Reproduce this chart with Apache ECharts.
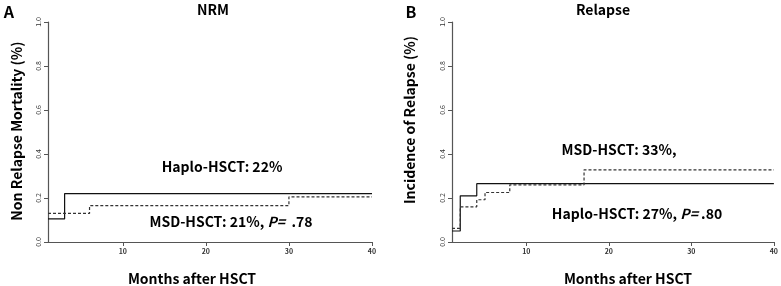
<!DOCTYPE html>
<html>
<head>
<meta charset="utf-8">
<script src="https://cdn.jsdelivr.net/npm/echarts@6/dist/echarts.min.js"></script>
<style>
  html, body { margin: 0; padding: 0; background: #fff; }
  #main { width: 781px; height: 286px; }
</style>
</head>
<body>
<div id="main"></div>
<script>
// 数据: [月份, 累计发生率]
const nrmHaplo = [[1, 0.105], [3, 0.22], [40, 0.22]];
const nrmMsd = [[1, 0.13], [6, 0.165], [30, 0.205], [40, 0.205]];
const relHaplo = [[1, 0.05], [2, 0.21], [4, 0.265], [40, 0.265]];
const relMsd = [[1, 0.062], [2, 0.16], [4, 0.192], [5, 0.225], [8, 0.26], [17, 0.328], [40, 0.328]];
const xTicks = [10, 20, 30, 40];

const FONT = '"Noto Sans CJK SC", "Noto Sans", sans-serif';
const chart = echarts.init(document.getElementById('main'));

function xAxisOf(i) {
    return {
        gridIndex: i,
        type: 'value',
        min: 1,
        max: 40,
        splitLine: { show: false },
        axisLine: { lineStyle: { color: '#555', width: 1.2 } },
        axisTick: { length: 4, lineStyle: { color: '#555' }, customValues: xTicks },
        axisLabel: {
            customValues: xTicks,
            fontSize: 7, fontWeight: 'bold', color: '#333', margin: 6, fontFamily: FONT
        }
    };
}
function yAxisOf(i) {
    return {
        gridIndex: i,
        type: 'value',
        min: 0,
        max: 1,
        interval: 0.2,
        splitLine: { show: false },
        axisLine: { show: true, lineStyle: { color: '#555', width: 1.2 } },
        axisTick: { show: true, length: 4, lineStyle: { color: '#555' } },
        axisLabel: {
            rotate: 90, fontSize: 7, color: '#333', margin: 6, fontFamily: FONT,
            formatter: (v) => v.toFixed(1)
        }
    };
}
function stepLine(i, data, dashed) {
    return {
        type: 'line',
        xAxisIndex: i,
        yAxisIndex: i,
        step: 'end',
        symbol: 'none',
        data: data,
        lineStyle: {
            color: dashed ? '#333' : '#111',
            width: 1.2,
            type: dashed ? [3, 2] : 'solid'
        },
        animation: false
    };
}
function txt(x, y, text, size, extra) {
    return Object.assign({
        type: 'text',
        x: x, y: y,
        style: {
            text: text, fill: '#000', fontSize: size, fontWeight: 'bold',
            fontFamily: FONT, align: 'center', verticalAlign: 'middle'
        }
    }, extra || {});
}
function richTxt(x, y, pre, post) {
    return {
        type: 'text',
        x: x, y: y,
        style: {
            text: '{n|' + pre + '}{i|P=}{n|' + post + '}',
            align: 'center', verticalAlign: 'middle',
            rich: {
                n: { fontSize: 14, fontWeight: 'bold', fontFamily: FONT, fill: '#000' },
                i: { fontSize: 14, fontWeight: 'bold', fontStyle: 'italic', fontFamily: FONT, fill: '#000' }
            }
        }
    };
}

chart.setOption({
    backgroundColor: '#fff',
    grid: [
        { left: 48, right: 409, top: 22, bottom: 44 },
        { left: 452, right: 5, top: 22, bottom: 44 }
    ],
    xAxis: [xAxisOf(0), xAxisOf(1)],
    yAxis: [yAxisOf(0), yAxisOf(1)],
    series: [
        stepLine(0, nrmHaplo, false),
        stepLine(0, nrmMsd, true),
        stepLine(1, relHaplo, false),
        stepLine(1, relMsd, true)
    ],
    graphic: [
        txt(9, 12, 'A', 16),
        txt(213, 10, 'NRM', 14),
        txt(17, 131, 'Non Relapse Mortality (%)', 14, { rotation: Math.PI / 2 }),
        txt(192, 279, 'Months after HSCT', 14),
        txt(222, 167, 'Haplo-HSCT: 22%', 14),
        richTxt(231, 222, 'MSD-HSCT: 21%, ', '  .78'),

        txt(411, 12, 'B', 16),
        txt(603, 10, 'Relapse', 14),
        txt(410, 120, 'Incidence of Relapse (%)', 14, { rotation: Math.PI / 2 }),
        txt(628, 279, 'Months after HSCT', 14),
        txt(619, 150, 'MSD-HSCT: 33%,', 14),
        richTxt(637, 214, 'Haplo-HSCT: 27%, ', ' .80')
    ]
});
</script>
</body>
</html>
